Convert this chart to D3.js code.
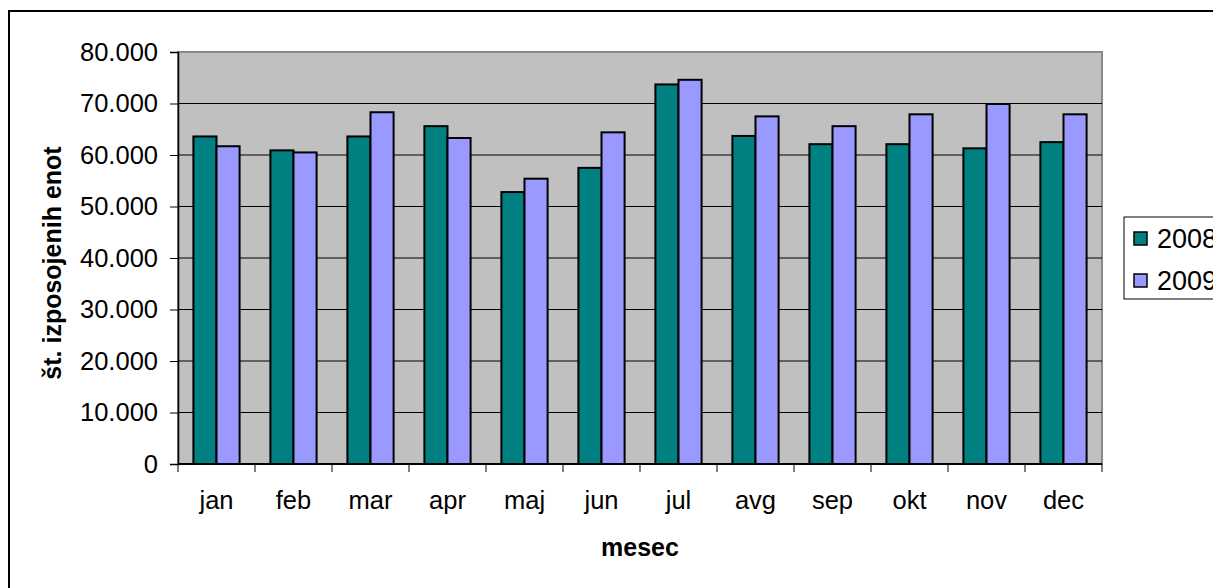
<!DOCTYPE html>
<html>
<head>
<meta charset="utf-8">
<script src="https://cdn.jsdelivr.net/npm/d3@7"></script>
<style>
  body { margin: 0; background: #fff; }
  text { font-family: "Liberation Sans", Arial, sans-serif; }
</style>
</head>
<body>
<script>
var svgWidth = 1213;
var svgHeight = 588;

// data
var months = ["jan", "feb", "mar", "apr", "maj", "jun", "jul", "avg", "sep", "okt", "nov", "dec"];
var seriesNames = ["2008", "2009"];
var values2008 = [63600, 60900, 63600, 65600, 52800, 57500, 73700, 63700, 62100, 62100, 61300, 62500];
var values2009 = [61700, 60500, 68300, 63300, 55400, 64400, 74600, 67500, 65600, 67900, 69900, 67900];
var yTicks = [0, 10000, 20000, 30000, 40000, 50000, 60000, 70000, 80000];
var colors = ["#008080", "#9999FF"];

var plot = { left: 178, top: 52, right: 1102, bottom: 464 };

var svg = d3.select("body")
  .append("svg")
  .attr("width", svgWidth)
  .attr("height", svgHeight);

// outer chart border
svg.append("rect")
  .attr("x", 9).attr("y", 11)
  .attr("width", 1240).attr("height", 600)
  .attr("fill", "none")
  .attr("stroke", "#000")
  .attr("stroke-width", 2);

var x0 = d3.scaleBand()
  .domain(months)
  .range([plot.left, plot.right])
  .paddingInner(0.4)
  .paddingOuter(0.2);

var x1 = d3.scaleBand()
  .domain(seriesNames)
  .range([0, x0.bandwidth()]);

var y = d3.scaleLinear()
  .domain([0, 80000])
  .range([plot.bottom, plot.top]);

var locale = d3.formatLocale({ decimal: ",", thousands: ".", grouping: [3], currency: ["", "€"] });
var fmt = locale.format(",d");

// plot background
svg.append("rect")
  .attr("x", plot.left).attr("y", plot.top)
  .attr("width", plot.right - plot.left)
  .attr("height", plot.bottom - plot.top)
  .attr("fill", "#C0C0C0")
  .attr("stroke", "#888")
  .attr("stroke-width", 2);

// gridlines
svg.append("g")
  .selectAll("line")
  .data(yTicks.filter(d => d > 0 && d < 80000))
  .enter()
  .append("line")
  .attr("x1", plot.left).attr("x2", plot.right)
  .attr("y1", d => y(d)).attr("y2", d => y(d))
  .attr("stroke", "#000")
  .attr("stroke-width", 1);

// bars
var rows = months.map((m, i) => ({ month: m, vals: [values2008[i], values2009[i]] }));

var groups = svg.append("g")
  .selectAll("g")
  .data(rows)
  .enter()
  .append("g")
  .attr("transform", d => `translate(${x0(d.month)},0)`);

groups.selectAll("rect")
  .data(d => d.vals.map((v, j) => ({ key: seriesNames[j], value: v, j: j })))
  .enter()
  .append("rect")
  .attr("x", d => x1(d.key))
  .attr("y", d => y(d.value))
  .attr("width", x1.bandwidth())
  .attr("height", d => y(0) - y(d.value))
  .attr("fill", d => colors[d.j])
  .attr("stroke", "#000")
  .attr("stroke-width", 2);

// y axis
var LeftAxe = d3.axisLeft(y)
  .tickValues(yTicks)
  .tickFormat(fmt)
  .tickSize(8)
  .tickPadding(12);

var yAxisG = svg.append("g")
  .attr("transform", `translate(${plot.left},0)`)
  .call(LeftAxe);
yAxisG.select(".domain").attr("stroke", "#000").attr("stroke-width", 1.5);
yAxisG.selectAll("text")
  .style("font-size", "25.5px")
  .attr("fill", "#000");

// x axis: ticks at category boundaries
var xAxisG = svg.append("g");
xAxisG.append("line")
  .attr("x1", plot.left).attr("x2", plot.right)
  .attr("y1", plot.bottom).attr("y2", plot.bottom)
  .attr("stroke", "#000").attr("stroke-width", 2);

var bounds = months.map(m => x0(m) - x0.step() * x0.paddingInner() / 2);
bounds.push(plot.right);
xAxisG.selectAll(".tick")
  .data(bounds)
  .enter()
  .append("line")
  .attr("x1", d => d).attr("x2", d => d)
  .attr("y1", plot.bottom).attr("y2", plot.bottom + 8)
  .attr("stroke", "#000");

xAxisG.selectAll(".lbl")
  .data(months)
  .enter()
  .append("text")
  .attr("x", d => x0(d) + x0.bandwidth() / 2)
  .attr("y", 509)
  .attr("text-anchor", "middle")
  .style("font-size", "25.5px")
  .text(d => d);

// axis titles
svg.append("text")
  .attr("x", (plot.left + plot.right) / 2)
  .attr("y", 556)
  .attr("text-anchor", "middle")
  .style("font-size", "25px")
  .style("font-weight", "bold")
  .text("mesec");

svg.append("text")
  .attr("transform", "translate(61,263) rotate(-90)")
  .attr("text-anchor", "middle")
  .style("font-size", "25px")
  .style("font-weight", "bold")
  .text("št. izposojenih enot");

// legend
var legend = svg.append("g");
legend.append("rect")
  .attr("x", 1124).attr("y", 217)
  .attr("width", 120).attr("height", 82)
  .attr("fill", "#fff")
  .attr("stroke", "#000")
  .attr("stroke-width", 1);

var items = legend.selectAll(".item")
  .data(seriesNames)
  .enter()
  .append("g")
  .attr("transform", (d, i) => `translate(1134,${232 + i * 42})`);

items.append("rect")
  .attr("width", 13).attr("height", 13)
  .attr("fill", (d, i) => colors[i])
  .attr("stroke", "#000")
  .attr("stroke-width", 1.5);

items.append("text")
  .attr("x", 23)
  .attr("y", 16)
  .style("font-size", "27px")
  .text(d => d);
</script>
</body>
</html>
